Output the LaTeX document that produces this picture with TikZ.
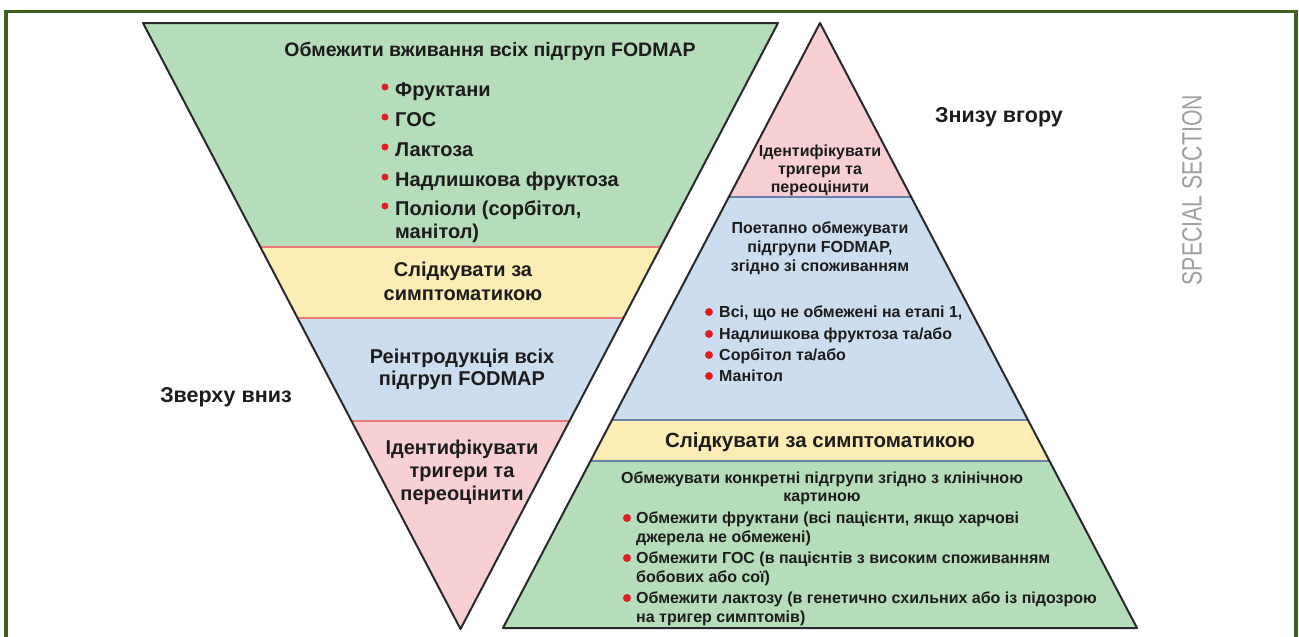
\documentclass[tikz,border=0pt]{standalone}
\usepackage{fontspec}
\setmainfont{Liberation Sans}
\usepackage{graphicx}
\definecolor{fgreen}{RGB}{181,221,185}
\definecolor{fyellow}{RGB}{251,237,180}
\definecolor{fblue}{RGB}{205,221,240}
\definecolor{fpink}{RGB}{248,208,212}
\definecolor{sepred}{RGB}{236,120,120}
\definecolor{sepblue}{RGB}{105,130,165}
\definecolor{edgec}{RGB}{40,40,45}
\definecolor{framegreen}{RGB}{62,98,30}
\definecolor{bulred}{RGB}{226,30,36}
\definecolor{ink}{RGB}{28,28,28}
\definecolor{greytxt}{RGB}{160,160,160}
\begin{document}
\begin{tikzpicture}[x=1pt,y=-1pt,
  big/.style={font=\bfseries\fontsize{20}{22}\selectfont,text=ink,inner sep=0pt,anchor=base},
  bigl/.style={big,anchor=base west},
  sm/.style={font=\bfseries\fontsize{16}{18}\selectfont,text=ink,inner sep=0pt,anchor=base},
  sml/.style={sm,anchor=base west},
  lbl/.style={font=\bfseries\fontsize{21.5}{23}\selectfont,text=ink,inner sep=0pt},
  bul/.style={fill=bulred},
  outline/.style={draw=edgec,line width=2pt,line join=round},
  sepL/.style={draw=sepred,line width=1.6pt},
  sepR/.style={draw=sepblue,line width=1.4pt},
  frame/.style={draw=framegreen,line width=3.5pt}
]
\useasboundingbox (0,0) rectangle (1299,637);
\fill[white] (0,0) rectangle (1299,637);
\draw[frame] (6,700) -- (6,11.5) -- (1296,11.5) -- (1296,700);

% ---------- left inverted triangle
\coordinate (L1) at (143,23);
\coordinate (L2) at (778,23);
\coordinate (L3) at (460.5,629);
\begin{scope}
\clip (L1) -- (L2) -- (L3) -- cycle;
\fill[fgreen] (0,0) rectangle (1299,247);
\fill[fyellow] (0,247) rectangle (1299,318);
\fill[fblue] (0,318) rectangle (1299,421);
\fill[fpink] (0,421) rectangle (1299,640);
\draw[sepL] (0,247) -- (1299,247);
\draw[sepL] (0,318) -- (1299,318);
\draw[sepL] (0,421) -- (1299,421);
\end{scope}
\draw[outline] (L1) -- (L2) -- (L3) -- cycle;

\node[big,font=\bfseries\fontsize{19.5}{21}\selectfont] (lt) at (490,56) {Обмежити вживання всіх підгруп FODMAP};
\foreach \yy/\tt [count=\i] in {90/{Фруктани},120/{ГОС},150/{Лактоза},180/{Надлишкова фруктоза},209/{Поліоли (сорбітол,}}{
  \fill[bul] (385,\yy-3) circle (3.5pt);
  \node[bigl] (lb\i) at (395,\yy+6) {\tt};
}
\node[bigl] (lb6) at (395,238) {манітол)};
\node[big] (ly1) at (463,276) {Слідкувати за};
\node[big] (ly2) at (463,300) {симптоматикою};
\node[big] (lr1) at (462,363) {Реінтродукція всіх};
\node[big] (lr2) at (462,385) {підгруп FODMAP};
\node[big] (lp1) at (462,454) {Ідентифікувати};
\node[big] (lp2) at (462,477) {тригери та};
\node[big] (lp3) at (462,500) {переоцінити};

% ---------- right triangle
\coordinate (R1) at (820,23);
\coordinate (R2) at (1137,628);
\coordinate (R3) at (503,628);
\begin{scope}
\clip (R1) -- (R2) -- (R3) -- cycle;
\fill[fpink] (0,0) rectangle (1299,197);
\fill[fblue] (0,197) rectangle (1299,420);
\fill[fyellow] (0,420) rectangle (1299,461);
\fill[fgreen] (0,461) rectangle (1299,640);
\draw[sepR] (0,197) -- (1299,197);
\draw[sepR] (0,420) -- (1299,420);
\draw[sepR] (0,461) -- (1299,461);
\end{scope}
\draw[outline] (R1) -- (R2) -- (R3) -- cycle;

\node[sm] (rp1) at (820,156) {Ідентифікувати};
\node[sm] (rp2) at (820,174) {тригери та};
\node[sm] (rp3) at (820,192) {переоцінити};
\node[sm] (rb1) at (820,233) {Поетапно обмежувати};
\node[sm] (rb2) at (820,252) {підгрупи FODMAP,};
\node[sm] (rb3) at (820,271) {згідно зі споживанням};
\foreach \yy/\tt [count=\i] in {312/{Всі, що не обмежені на етапі 1,},334/{Надлишкова фруктоза та/або},355/{Сорбітол та/або},376/{Манітол}}{
  \fill[bul] (709,\yy) circle (4pt);
  \node[sml] (rbb\i) at (719,\yy+5) {\tt};
}
\node[big,font=\bfseries\fontsize{20.5}{22}\selectfont] (ry) at (820,447) {Слідкувати за симптоматикою};
\node[sm] (rg1) at (822,483) {Обмежувати конкретні підгрупи згідно з клінічною};
\node[sm] (rg2) at (822,501) {картиною};
\fill[bul] (627,518) circle (4pt);
\node[sml] (rg3) at (636,523) {Обмежити фруктани (всі пацієнти, якщо харчові};
\node[sml] (rg4) at (636,542) {джерела не обмежені)};
\fill[bul] (627,558) circle (4pt);
\node[sml] (rg5) at (636,563) {Обмежити ГОС (в пацієнтів з високим споживанням};
\node[sml] (rg6) at (636,582) {бобових або сої)};
\fill[bul] (627,598) circle (4pt);
\node[sml] (rg7) at (636,603) {Обмежити лактозу (в генетично схильних або із підозрою};
\node[sml] (rg8) at (636,622) {на тригер симптомів)};

% ---------- side labels
\node[lbl] (down) at (226,397) {Зверху вниз};
\node[lbl] (up) at (999,117) {Знизу вгору};
\node[rotate=90,text=greytxt,inner sep=0pt,font=\fontsize{28}{28}\selectfont] (ss) at (1192,190) {\scalebox{0.76}[1]{SPECIAL SECTION}};
\end{tikzpicture}
\end{document}
